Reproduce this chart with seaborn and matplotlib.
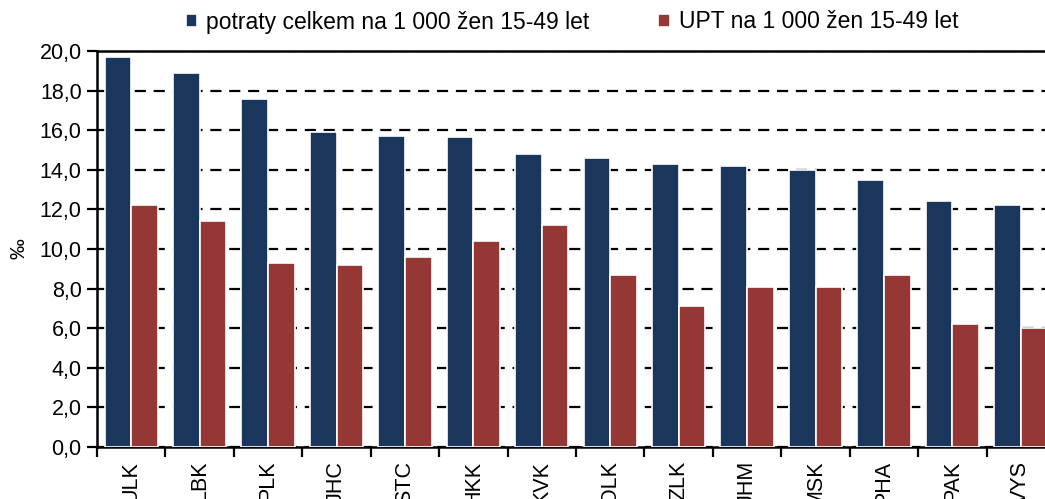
import pandas as pd
import matplotlib.pyplot as plt
import seaborn as sns

# Kraje a hodnoty (na 1 000 žen 15-49 let)
kraje = ["ULK", "LBK", "PLK", "JHC", "STC", "HKK", "KVK", "OLK", "ZLK", "JHM", "MSK", "PHA", "PAK", "VYS"]
potraty_celkem = [19.7, 18.9, 17.6, 15.9, 15.7, 15.65, 14.8, 14.6, 14.3, 14.2, 14.0, 13.5, 12.4, 12.2]
upt = [12.2, 11.4, 9.3, 9.2, 9.6, 10.4, 11.2, 8.7, 7.1, 8.1, 8.1, 8.7, 6.2, 6.0]
serie = ["potraty celkem na 1 000 žen 15-49 let", "UPT na 1 000 žen 15-49 let"]
barvy = ["#1a365c", "#953735"]

df = pd.DataFrame({
    "kraj": kraje * 2,
    "hodnota": potraty_celkem + upt,
    "serie": [serie[0]] * len(kraje) + [serie[1]] * len(kraje),
})

sns.set_style("white")
plt.rcParams["font.family"] = ["Liberation Sans", "DejaVu Sans"]
plt.rcParams["text.color"] = "black"
plt.rcParams["axes.labelcolor"] = "black"
plt.rcParams["xtick.color"] = "black"
plt.rcParams["ytick.color"] = "black"

fig = plt.figure(figsize=(10.45, 4.99), dpi=100)
ax = fig.add_axes([97 / 1045, 52 / 499, 958 / 1045, 396 / 499])

sns.barplot(data=df, x="kraj", y="hodnota", hue="serie", palette=barvy,
            width=0.78, edgecolor="white", linewidth=1.2, saturation=1,
            ax=ax, zorder=3)

ax.set_ylim(0, 20)
ax.set_xlim(-0.5, len(kraje) - 0.5)
ax.set_yticks([i * 2 for i in range(11)])
ax.set_yticklabels([f"{i * 2},0" for i in range(11)], fontsize=15.5)
ax.yaxis.grid(True, color="black", linestyle=(0, (5, 3.5)), linewidth=1.6, zorder=0)
ax.set_axisbelow(True)

ax.set_xticks(range(len(kraje)))
ax.set_xticklabels(kraje, rotation=90, fontsize=15.5)
ax.tick_params(axis="x", length=0, pad=10)
ax.set_xticks([i - 0.5 for i in range(len(kraje) + 1)], minor=True)
ax.tick_params(axis="x", which="minor", length=7, width=1.6, bottom=True, color="black")
ax.tick_params(axis="y", length=7, width=1.6, left=True, color="black", pad=4)

ax.set_xlabel("")
ax.set_ylabel("‰", fontsize=15, labelpad=8)

for s in ["left", "bottom", "top"]:
    ax.spines[s].set_visible(True)
    ax.spines[s].set_color("black")
    ax.spines[s].set_linewidth(1.8)
ax.spines["right"].set_visible(False)

h, l = ax.get_legend_handles_labels()
ax.get_legend().remove()
fig.legend(h, l, loc="center", bbox_to_anchor=(572 / 1045, 1 - 22 / 499), ncol=2,
           frameon=False, fontsize=16.5, handlelength=0.5, handleheight=0.5,
           handletextpad=0.4, columnspacing=3.0)

fig.savefig("out.png", dpi=100)
